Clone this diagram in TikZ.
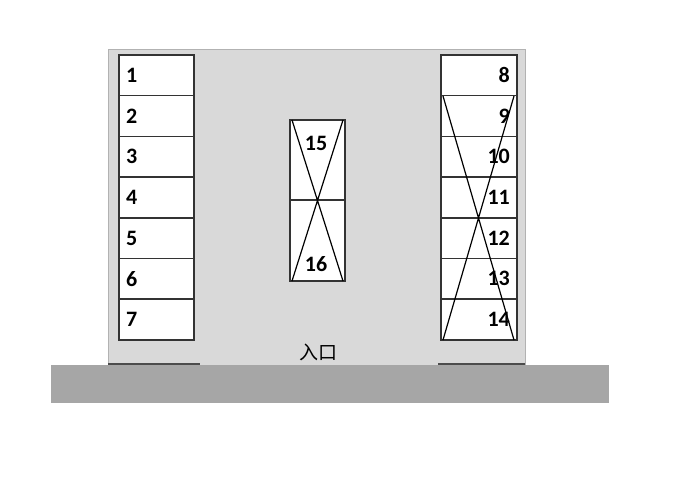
\documentclass[tikz,border=0pt]{standalone}
\usepackage{fontspec}
\setmainfont{Carlito}
\newfontfamily\cjk{Noto Sans CJK SC}
\begin{document}
\begin{tikzpicture}[x=1pt,y=-1pt,
  slot/.style={draw=black!80,fill=white,line width=1.6pt},
  num/.style={font=\bfseries\fontsize{22}{22}\selectfont,inner sep=1pt}]
\useasboundingbox (0,0) rectangle (683,487);
\fill[white] (0,0) rectangle (683,487);
\fill[gray!30,draw=gray!60,line width=1pt] (108,50) rectangle (525,365);
\fill[gray!70] (51,365) rectangle (609,403);
\draw[line width=1.5pt,black!70] (108,364) -- (200,364) (438,364) -- (525,364);
\foreach \i in {1,...,7}{
  \pgfmathsetmacro\ya{55+(\i-1)*40.7}
  \pgfmathsetmacro\yb{55+\i*40.7}
  \draw[slot] (119,\ya) rectangle (194,\yb);
  \node[num,anchor=west] (l\i) at (125,{(\ya+\yb)/2}) {\i};
  \pgfmathtruncatemacro\j{\i+7}
  \draw[slot] (441,\ya) rectangle (517,\yb);
  \node[num,anchor=east] (r\j) at (511,{(\ya+\yb)/2}) {\j};
}
\draw[line width=1.2pt] (443,96) -- (514,340) (514,96) -- (443,340);
\draw[slot] (290,120) rectangle (345,200);
\draw[slot] (290,200) rectangle (345,281);
\node[num] (m15) at (316,143) {15};
\node[num] (m16) at (316,264) {16};
\draw[line width=1.2pt] (292,120) -- (343,281) (343,120) -- (292,281);
\node[font=\cjk\fontsize{19}{19}\selectfont] (ent) at (318,352) {入口};
\end{tikzpicture}
\end{document}
